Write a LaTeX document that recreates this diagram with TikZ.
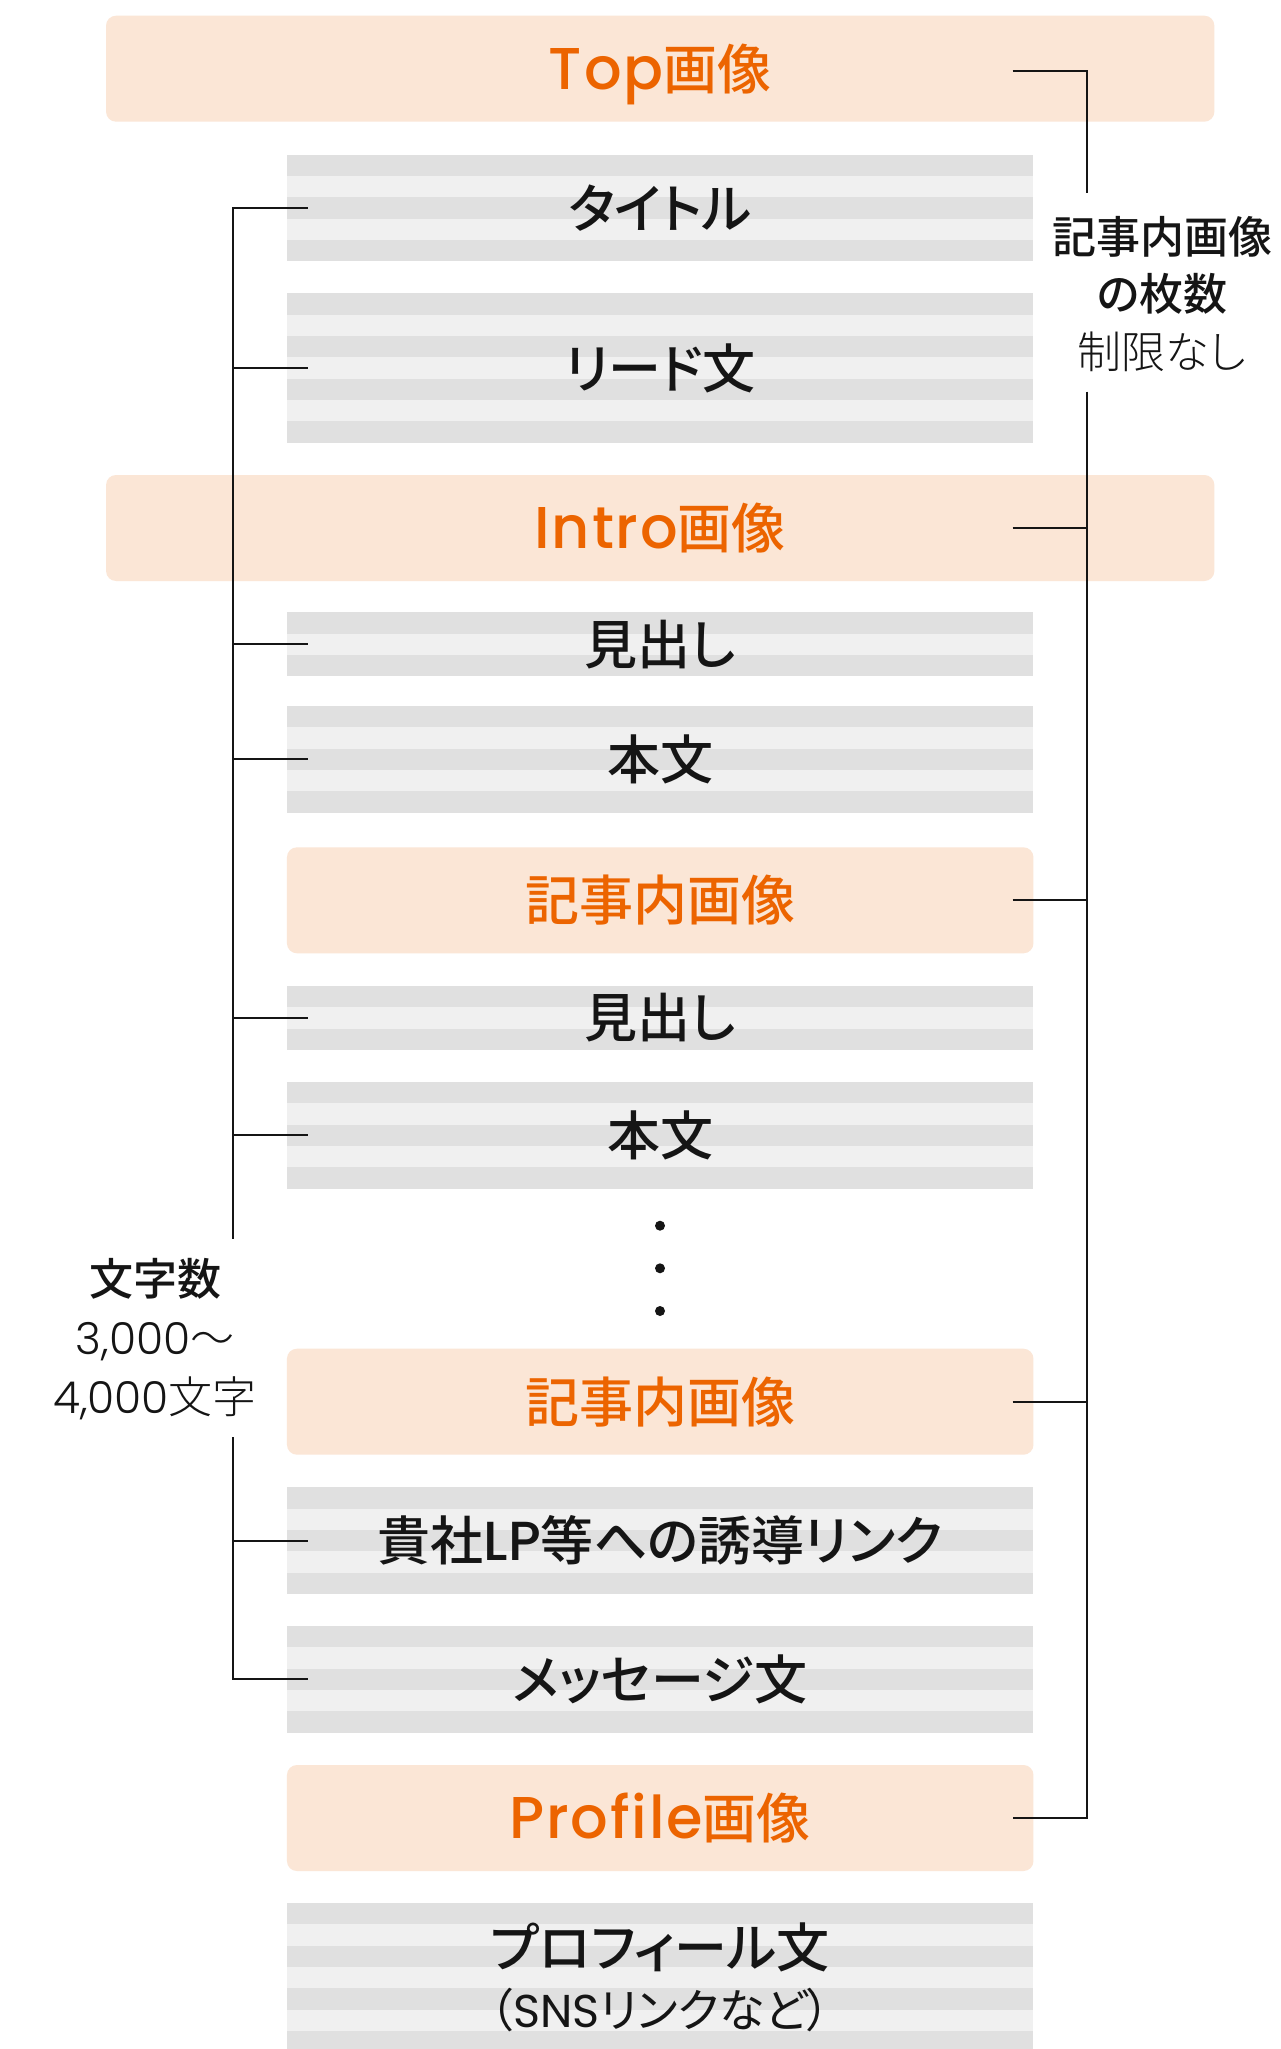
\documentclass[tikz,border=0pt]{standalone}
\usepackage{fontspec}
\setmainfont{Noto Sans CJK JP}[RawFeature=+palt]
\newfontfamily\jpmed{Noto Sans CJK JP Medium}[RawFeature=+palt]
\newfontfamily\jplight{Noto Sans CJK JP Light}[RawFeature=+palt]
\newfontfamily\popmed{Poppins}[UprightFont=* Medium]
\newfontfamily\poporange{Poppins}[UprightFont=* Medium,LetterSpace=3]
\newfontfamily\poplight{Poppins}[UprightFont=* Light]
\newfontfamily\popreg{Poppins}
\definecolor{orangetxt}{HTML}{EC6400}
\definecolor{orfill}{HTML}{FBE6D6}
\definecolor{stripedark}{HTML}{E0E0E0}
\definecolor{stripelight}{HTML}{F0F0F0}
\definecolor{ink}{HTML}{151515}
\newcommand{\lat}[1]{{\fontsize{59}{60}\selectfont\poporange #1}}
\begin{document}
\begin{tikzpicture}[x=1pt,y=-1pt,
  graybox/.style={fill=stripelight, minimum width=746.5pt, inner sep=0pt, outer sep=0pt,
    text=ink, font=\fontsize{53}{60}\selectfont\jpmed,
    path picture={
      \foreach \k in {0,...,3}
        \fill[stripedark] ([yshift=-\k*42.667pt]path picture bounding box.north west)
          rectangle ([yshift=-\k*42.667pt-21.333pt]path picture bounding box.north east);
    }},
  orbox/.style={fill=orfill, rounded corners=10pt, minimum width=746.5pt, minimum height=106pt,
    inner sep=0pt, outer sep=0pt, text=orangetxt, font=\fontsize{54}{60}\selectfont\jpmed,
    text height=47.5pt, text depth=6.5pt},
  widebox/.style={orbox, minimum width=1108.3pt},
  conn/.style={draw=ink, line width=2pt},
  dotnode/.style={circle, fill=ink, inner sep=0pt, minimum size=10pt},
  sidelabel/.style={text=ink, align=center, inner sep=0pt, font=\fontsize{44}{59}\selectfont\jplight}
]
\useasboundingbox (0,0) rectangle (1281,2049);
\fill[white] (0,0) rectangle (1281,2049);

% main column
\node[widebox] (top) at (660.2,68.7) {\lat{Top}画像};
\node[graybox, minimum height=106.667pt] (title) at (660.2,208) {タイトル};
\node[graybox, minimum height=149.333pt] (lead) at (660.2,368) {リード文};
\node[widebox] (intro) at (660.2,528) {\lat{Intro}画像};
\node[graybox, minimum height=64pt] (mid1) at (660.2,644.3) {見出し};
\node[graybox, minimum height=106.667pt] (body1) at (660.2,759.3) {本文};
\node[orbox] (kiji1) at (660.2,900.3) {記事内画像};
\node[graybox, minimum height=64pt] (mid2) at (660.2,1018) {見出し};
\node[graybox, minimum height=106.667pt] (body2) at (660.2,1135.3) {本文};
\node[dotnode] (d1) at (660,1225.7) {};
\node[dotnode] (d2) at (660,1268.3) {};
\node[dotnode] (d3) at (660,1311) {};
\node[orbox] (kiji2) at (660.2,1401.7) {記事内画像};
\node[graybox, minimum height=106.667pt] (link) at (660.2,1540.7) {貴社{\fontsize{55}{60}\selectfont\popmed LP}等への誘導リンク};
\node[graybox, minimum height=106.667pt] (msg) at (660.2,1679.3) {メッセージ文};
\node[orbox] (prof) at (660.2,1818) {\lat{Profile}画像};
\node[graybox, minimum height=149.333pt, align=center] (profile) at (660.2,1977.7)
  {プロフィール文\\{\fontsize{46}{46}\selectfont\rmfamily（{\popreg SNS}リンクなど）}};

% side labels
\node[sidelabel] (count) at (155,1339) {{\jpmed 文字数}\\{\poplight 3,000}～\\{\poplight 4,000}文字};
\node[sidelabel, font=\fontsize{44}{57.5}\selectfont\jplight] (imgnum) at (1162,294) {{\jpmed 記事内画像}\\{\jpmed の枚数}\hspace{12pt}\\制限なし};

% left bracket
\coordinate (Lx) at (233.3,0);
\coordinate (gapA) at (233.3,1238.7);
\coordinate (gapB) at (233.3,1437.3);
\draw[conn] ([xshift=20.7pt]title.west) -- (title.west -| Lx) -- (gapA);
\foreach \n in {lead,mid1,body1,mid2,body2}
  \draw[conn] ([xshift=20.7pt]\n.west) -- (\n.west -| Lx);
\draw[conn] (gapB) -- (Lx |- msg.west) -- ([xshift=20.7pt]msg.west);
\draw[conn] ([xshift=20.7pt]link.west) -- (link.west -| Lx);

% right bracket
\coordinate (Rx) at (1086.7,0);
\coordinate (Rt) at (1012.5,0);
\coordinate (topTick) at ([yshift=-2.5pt]top.east);
\coordinate (gapC) at (1086.7,193.3);
\coordinate (gapD) at (1086.7,391.7);
\draw[conn] (Rt |- topTick) -- (Rx |- topTick) -- (gapC);
\draw[conn] (gapD) -- (Rx |- prof.east) -- (Rt |- prof.east);
\foreach \n in {intro,kiji1,kiji2}
  \draw[conn] (Rt |- \n.east) -- (Rx |- \n.east);
\end{tikzpicture}
\end{document}
